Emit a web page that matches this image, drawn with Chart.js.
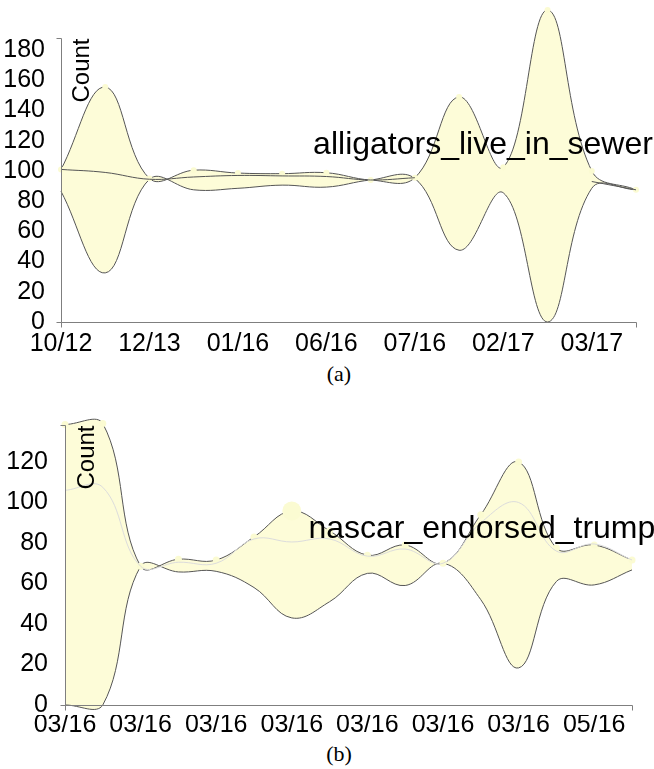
<!DOCTYPE html>
<html>
<head>
<meta charset="utf-8">
<script src="https://cdn.jsdelivr.net/npm/chart.js@4/dist/chart.umd.min.js"></script>
<style>
  html, body { margin: 0; padding: 0; background: #fff; }
  body { width: 654px; height: 769px; position: relative; overflow: hidden; }
  canvas { position: absolute; left: 0; }
  #chartA { top: 0; }
  #chartB { top: 390px; }
  .caption {
    position: absolute; left: 0; width: 678px; text-align: center;
    font-family: "Liberation Serif", "Times New Roman", serif;
    font-size: 22px; line-height: 22px; color: #000;
  }
  #capA { top: 363px; }
  #capB { top: 743px; }
</style>
</head>
<body>
<canvas id="chartA" width="654" height="360"></canvas>
<div class="caption" id="capA">(a)</div>
<canvas id="chartB" width="654" height="350"></canvas>
<div class="caption" id="capB">(b)</div>

<script>
// ---- (a) alligators_live_in_sewer ----
const datesA  = ['10/12', '', '12/13', '', '01/16', '', '06/16', '', '07/16', '', '02/17', '', '03/17', ''];
const upperA  = [101, 155.5, 95, 100.5, 98.6, 98.2, 98.8, 94, 95.5, 149, 102.5, 206.5, 100, 87.5];
const middleA = [101, 99, 94.5, 96, 97, 96.7, 96.3, 94, 95.5, null, null, null, 93, 87.5];
const lowerA  = [86.5, 32.5, 94.5, 87.5, 88.5, 90.6, 89.3, 94, 95, 47.5, 85.5, 0, 88.5, 87.5];
const yTicksA = [0, 20, 40, 60, 80, 100, 120, 140, 160, 180];
const axisTopA = 188;

// ---- (b) nascar_endorsed_trump ----
const datesB  = ['03/16', '', '03/16', '', '03/16', '', '03/16', '', '03/16', '', '03/16', '', '03/16', '', '05/16', ''];
const upperB  = [138.5, 139, 68.5, 72, 71.6, 83, 95.8, 86, 74, 79, 70, 94, 120, 77.5, 79, 71.6];
const middleB = [106, 107.5, 68.5, 70.5, 70, 82, 80.5, 82, 73.5, 77, 70, 90, 100, 76, 79.5, 71.6];
const lowerB  = [0, 0, 68.5, 65.7, 66, 58, 43, 51, 65, 59, 70, 52, 18.3, 61, 59.3, 66.7];
const yTicksB = [0, 20, 40, 60, 80, 100, 120];
const axisTopB = 138.3;

const SANS = '"Liberation Sans", Arial, Helvetica, sans-serif';
const BAND_FILL = '#fdfcd8';
const POINT_FILL = '#fbfbd2';
const EDGE = '#555555';
const AXIS = '#7f7f7f';

// Axis lines (with small outer ticks), rotated "Count" title and the series name.
const panelDecor = {
  id: 'panelDecor',
  afterDatasetsDraw(chart, args, o) {
    const { ctx } = chart;
    const xs = chart.scales.x, ys = chart.scales.y;
    const xl = Math.round(xs.getPixelForValue(0)) + 0.5;
    const xr = Math.round(xs.getPixelForValue(chart.data.labels.length - 1)) + 0.5;
    const yb = Math.round(ys.getPixelForValue(0)) + 0.5;
    const yt = Math.round(ys.getPixelForValue(o.axisTop)) + 0.5;
    ctx.save();
    ctx.strokeStyle = AXIS;
    ctx.lineWidth = 1;
    ctx.beginPath();
    ctx.moveTo(xl - 5, yt); ctx.lineTo(xl, yt); ctx.lineTo(xl, yb); ctx.lineTo(xl - 5, yb);
    ctx.moveTo(xl, yb + 5); ctx.lineTo(xl, yb); ctx.lineTo(xr, yb); ctx.lineTo(xr, yb + 5);
    ctx.stroke();

    ctx.fillStyle = '#000';
    // y title, rotated, ending at the top of the axis
    ctx.save();
    ctx.translate(xl + o.titleOffset, yt);
    ctx.rotate(-Math.PI / 2);
    ctx.font = '24px ' + SANS;
    ctx.textAlign = 'right';
    ctx.textBaseline = 'alphabetic';
    ctx.fillText('Count', 0, 0);
    ctx.restore();

    // series name inside the plot
    ctx.font = o.nameSize + 'px ' + SANS;
    ctx.textAlign = 'left';
    ctx.textBaseline = 'alphabetic';
    ctx.fillText(o.name, xs.getPixelForValue(o.nameAt[0]), ys.getPixelForValue(o.nameAt[1]));
    ctx.restore();
  }
};

function buildPanel(id, d, s) {
  return new Chart(document.getElementById(id), {
    type: 'line',
    data: {
      labels: d.labels,
      datasets: [
        {
          label: 'middle', data: d.middle,
          borderColor: s.middleColor, borderWidth: 1,
          pointRadius: 0, fill: false, tension: 0.4, clip: false, spanGaps: false
        },
        {
          label: 'upper', data: d.upper,
          borderColor: EDGE, borderWidth: 1,
          backgroundColor: BAND_FILL, fill: '+1',
          pointRadius: c => (c.dataIndex === s.bigPoint ? 9.5 : s.pointRadius),
          pointBackgroundColor: POINT_FILL, pointBorderWidth: 0,
          tension: 0.4, clip: false
        },
        {
          label: 'lower', data: d.lower,
          borderColor: EDGE, borderWidth: 1,
          pointRadius: 0, fill: false, tension: 0.4, clip: false
        }
      ]
    },
    options: {
      responsive: false,
      animation: false,
      devicePixelRatio: 1,
      events: [],
      layout: { padding: { top: s.padTop, right: s.padRight, left: 0, bottom: 0 } },
      plugins: {
        legend: { display: false },
        tooltip: { enabled: false },
        filler: { drawTime: 'beforeDatasetsDraw' },
        panelDecor: {
          axisTop: d.axisTop, name: d.name, nameAt: d.nameAt,
          nameSize: 32, titleOffset: s.titleOffset
        }
      },
      scales: {
        x: {
          type: 'category',
          grid: { display: false },
          border: { display: false },
          ticks: {
            autoSkip: false, maxRotation: 0, minRotation: 0,
            padding: s.xPad, color: '#000', font: { family: SANS, size: 25 }
          },
          afterFit: sc => { sc.height = s.xHeight; sc.paddingLeft = 0; sc.paddingRight = 0; }
        },
        y: {
          min: s.yMin, max: s.yMax,
          grid: { display: false },
          border: { display: false },
          ticks: { padding: s.yPad, color: '#000', font: { family: SANS, size: 25 } },
          afterBuildTicks: sc => { sc.ticks = d.yTicks.map(v => ({ value: v })); },
          afterFit: sc => { sc.width = s.yWidth; sc.paddingTop = 0; sc.paddingBottom = 0; }
        }
      }
    },
    plugins: [panelDecor]
  });
}

buildPanel('chartA',
  { labels: datesA, upper: upperA, middle: middleA, lower: lowerA, yTicks: yTicksA,
    axisTop: axisTopA, name: 'alligators_live_in_sewer', nameAt: [5.7, 111] },
  { middleColor: '#555555', bigPoint: -1, pointRadius: 3,
    padTop: 4, padRight: 18, xHeight: 38, xPad: -1, yWidth: 61, yPad: 8,
    yMin: 0, yMax: 210.5, titleOffset: 27 });

buildPanel('chartB',
  { labels: datesB, upper: upperB, middle: middleB, lower: lowerB, yTicks: yTicksB,
    axisTop: axisTopB, name: 'nascar_endorsed_trump', nameAt: [6.44, 82.5] },
  { middleColor: '#dcdcdc', bigPoint: 6, pointRadius: 3.5,
    padTop: 23.4, padRight: 22, xHeight: 24.9, xPad: -13, yWidth: 65, yPad: 9,
    yMin: -5, yMax: 144, titleOffset: 28 });
</script>
</body>
</html>
